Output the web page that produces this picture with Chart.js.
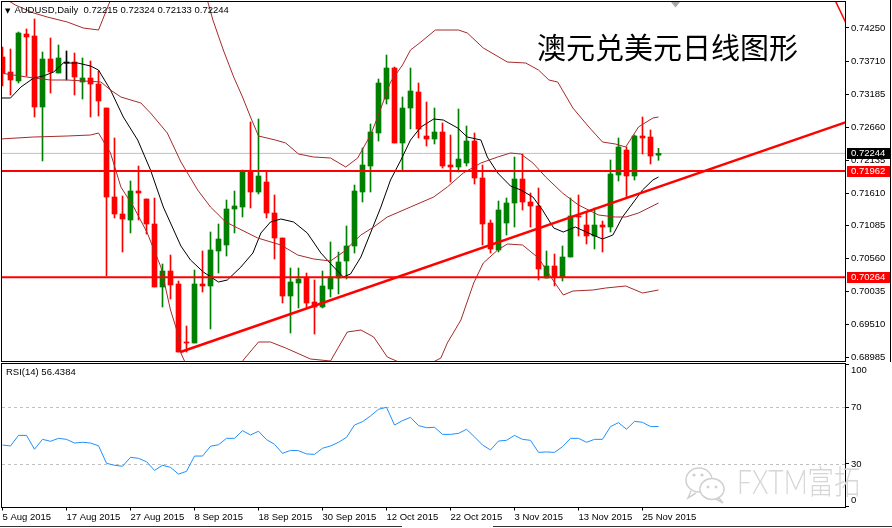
<!DOCTYPE html>
<html>
<head>
<meta charset="utf-8">
<title>AUDUSD Daily</title>
<script src="https://cdn.jsdelivr.net/npm/chart.js@4.4.1/dist/chart.umd.min.js"></script>
<style>
    html, body { margin: 0; padding: 0; background: #fff; }
    #wrap { position: relative; width: 892px; height: 528px; overflow: hidden;
            font-family: 'Liberation Sans', Arial, sans-serif; }
    canvas { position: absolute; left: 0; }
    #priceCanvas { top: 0; }
    #rsiCanvas { top: 363px; }
    .txt { position: absolute; white-space: nowrap; color: #000; }
    #header { left: 5px; top: 4px; font-size: 9.5px; line-height: 11px; }
    #header .arrow { font-family: 'DejaVu Sans', sans-serif; font-size: 7px; margin-right: 4px; }
    #title { left: 537px; top: 32px; font-family: 'Noto Sans CJK SC', sans-serif;
             font-size: 29px; line-height: 29px; }
    #rsiLabel { left: 6px; top: 366px; font-size: 9.5px; line-height: 11px; }
    #watermark { left: 737px; top: 462px; font-family: Lato, 'Noto Sans CJK SC', sans-serif;
                 font-weight: 300; font-size: 33px; line-height: 38px; color: #d6d6d6;
                 transform: scaleX(0.8); transform-origin: left top; }
    #wmIcon { position: absolute; left: 683px; top: 462px; }
    #shiftMark { position: absolute; left: 671px; top: 2px; }
    #edge { position: absolute; left: 890px; top: 0; width: 1px; height: 362px; background: #000; }
    #scroll1 { position: absolute; left: 0; top: 526px; width: 402px; height: 1px; background: #333; }
    #scroll2 { position: absolute; left: 493px; top: 526px; width: 399px; height: 1px; background: #333; }
</style>
</head>
<body>
<div id="wrap">
    <canvas id="priceCanvas" width="892" height="363"></canvas>
    <canvas id="rsiCanvas" width="892" height="165"></canvas>
    <div class="txt" id="header"></div>
    <div class="txt" id="title">澳元兑美元日线图形</div>
    <div class="txt" id="rsiLabel"></div>
    <svg id="wmIcon" width="48" height="44">
        <ellipse cx="16" cy="18" rx="13" ry="12" fill="none" stroke="#d0d0d0" stroke-width="1.5"/>
        <path d="M8 29 L5 36 L13 31" fill="none" stroke="#d0d0d0" stroke-width="1.5"/>
        <ellipse cx="29" cy="27" rx="12" ry="10.5" fill="#fff" stroke="#d0d0d0" stroke-width="1.5"/>
        <path d="M36 36 L40 41 L33 37" fill="none" stroke="#d0d0d0" stroke-width="1.5"/>
        <circle cx="11" cy="13" r="1.6" fill="#d0d0d0"/>
        <circle cx="19" cy="13" r="1.6" fill="#d0d0d0"/>
        <circle cx="25" cy="25" r="1.4" fill="#d0d0d0"/>
        <circle cx="33" cy="25" r="1.4" fill="#d0d0d0"/>
    </svg>
    <div class="txt" id="watermark">FXTM富拓</div>
    <svg id="shiftMark" width="10" height="7"><path d="M0 0 L9 0 L4.5 5.5 Z" fill="#a8a8a8"/></svg>
    <div id="edge"></div>
    <div id="scroll1"></div>
    <div id="scroll2"></div>
</div>
<script>
// ---- Data (5 Aug - 27 Nov 2015) ----
const dateLabels = ['5 Aug 2015', '17 Aug 2015', '27 Aug 2015', '8 Sep 2015', '18 Sep 2015',
    '30 Sep 2015', '12 Oct 2015', '22 Oct 2015', '3 Nov 2015', '13 Nov 2015', '25 Nov 2015'];

const opens = [0.73786, 0.73546, 0.73402, 0.74154, 0.74122, 0.72986, 0.73754, 0.73530, 0.73690, 0.73706,
    0.73386, 0.73450, 0.73354, 0.72970, 0.71546, 0.71274, 0.71178, 0.71642, 0.71514, 0.71114,
    0.70106, 0.70362, 0.70154, 0.69226, 0.69210, 0.70154, 0.70122, 0.70682, 0.70778, 0.71354,
    0.71386, 0.71962, 0.71626, 0.71786, 0.71290, 0.70890, 0.69962, 0.70170, 0.70250, 0.69866,
    0.69786, 0.70074, 0.70250, 0.70522, 0.70762, 0.71626, 0.72042, 0.72570, 0.73114, 0.73610,
    0.72410, 0.72970, 0.73226, 0.72522, 0.72474, 0.72586, 0.72058, 0.72026, 0.72090, 0.72442,
    0.71850, 0.71130, 0.70698, 0.71130, 0.71450, 0.71834, 0.71466, 0.71402, 0.70250, 0.70442,
    0.70266, 0.70586, 0.71242, 0.71098, 0.70922, 0.71098, 0.71066, 0.71898, 0.72298, 0.71882,
    0.72522, 0.72506, 0.72215];
const highs = [0.73946, 0.73914, 0.74186, 0.74234, 0.74394, 0.73866, 0.74090, 0.73978, 0.73882, 0.73850,
    0.73770, 0.73722, 0.73562, 0.72970, 0.72490, 0.71562, 0.71802, 0.72042, 0.71514, 0.71530,
    0.70474, 0.70618, 0.70202, 0.69482, 0.70378, 0.70682, 0.70986, 0.71114, 0.71498, 0.71642,
    0.71978, 0.72746, 0.72794, 0.71962, 0.71578, 0.70890, 0.70410, 0.70410, 0.70330, 0.70218,
    0.70362, 0.70826, 0.70666, 0.71082, 0.71738, 0.72330, 0.72714, 0.73434, 0.73818, 0.73626,
    0.73146, 0.73610, 0.73370, 0.73066, 0.72970, 0.72730, 0.72538, 0.72954, 0.72682, 0.72570,
    0.72058, 0.71178, 0.71482, 0.71530, 0.72186, 0.72234, 0.71610, 0.71690, 0.70682, 0.70634,
    0.70762, 0.71530, 0.71578, 0.71306, 0.71370, 0.71162, 0.72138, 0.72490, 0.72346, 0.72538,
    0.72826, 0.72618, 0.72324];
const lows = [0.73322, 0.73178, 0.73370, 0.73482, 0.72826, 0.72122, 0.73210, 0.73530, 0.73418, 0.73178,
    0.73114, 0.72826, 0.72842, 0.70282, 0.71210, 0.70666, 0.70970, 0.71178, 0.70954, 0.70106,
    0.69786, 0.69914, 0.69066, 0.69066, 0.69210, 0.70026, 0.69434, 0.70330, 0.70602, 0.70970,
    0.71226, 0.71370, 0.71594, 0.71210, 0.70554, 0.69850, 0.69370, 0.69770, 0.69770, 0.69354,
    0.69770, 0.69946, 0.69994, 0.70234, 0.70650, 0.71466, 0.71626, 0.72442, 0.73034, 0.72410,
    0.71962, 0.72634, 0.72490, 0.72362, 0.72394, 0.72010, 0.71786, 0.71946, 0.72042, 0.71754,
    0.70778, 0.70650, 0.70666, 0.70938, 0.71066, 0.71338, 0.71066, 0.70218, 0.70250, 0.70122,
    0.70202, 0.70586, 0.70922, 0.70794, 0.70714, 0.70666, 0.70986, 0.71802, 0.71546, 0.71818,
    0.72234, 0.72074, 0.72133];
const closes = [0.73530, 0.73418, 0.74170, 0.74106, 0.72986, 0.73754, 0.73546, 0.73770, 0.73690, 0.73466,
    0.73450, 0.73354, 0.73082, 0.71546, 0.71274, 0.71194, 0.71642, 0.71610, 0.71114, 0.70106,
    0.70362, 0.70138, 0.69066, 0.69210, 0.70154, 0.70122, 0.70698, 0.70874, 0.71354, 0.71402,
    0.71962, 0.71626, 0.71882, 0.71290, 0.70890, 0.69962, 0.70186, 0.70234, 0.69850, 0.69786,
    0.70122, 0.70266, 0.70506, 0.70762, 0.71642, 0.72058, 0.72586, 0.73370, 0.73610, 0.72410,
    0.72970, 0.73242, 0.72634, 0.72474, 0.72586, 0.72042, 0.72026, 0.72154, 0.72442, 0.71850,
    0.71114, 0.70714, 0.71338, 0.71450, 0.71834, 0.71466, 0.71402, 0.70394, 0.70442, 0.70266,
    0.70586, 0.71242, 0.71226, 0.70922, 0.71098, 0.71066, 0.71914, 0.72346, 0.71882, 0.72522,
    0.72490, 0.72202, 0.72244];

// Bollinger bands and moving average, traced as [bar position, price]
const bandUpper = [[-0.4, 0.74746], [0.6, 0.74698], [1.6, 0.74618], [3.9, 0.74490], [5.6, 0.74426],
    [8.1, 0.74346], [10.1, 0.74250], [12.0, 0.74218], [13.5, 0.74698], [16.0, 0.75178],
    [20.4, 0.75418], [24.1, 0.75018], [25.6, 0.74698], [26.3, 0.74378], [27.6, 0.73898],
    [28.9, 0.73466], [30.0, 0.73146], [31.0, 0.72826], [32.0, 0.72522], [34.1, 0.72458],
    [35.4, 0.72410], [37.0, 0.72234], [38.9, 0.72186], [41.0, 0.72170], [42.9, 0.72026],
    [44.4, 0.72170], [46.0, 0.72538], [46.9, 0.72826], [48.5, 0.73386], [50.0, 0.73658],
    [51.0, 0.73898], [52.3, 0.74026], [54.1, 0.74218], [57.0, 0.74218], [58.1, 0.74170],
    [60.1, 0.73930], [63.1, 0.73706], [65.4, 0.73690], [67.0, 0.73578], [68.3, 0.73418],
    [69.4, 0.73386], [71.3, 0.72970], [73.3, 0.72666], [75.0, 0.72426], [76.6, 0.72394],
    [77.9, 0.72346], [79.5, 0.72666], [81.3, 0.72810], [82.0, 0.72826]];
const bandMiddle = [[-0.3, 0.73530], [3.9, 0.73450], [6.0, 0.73418], [8.1, 0.73418], [12.3, 0.73386],
    [13.5, 0.73258], [14.8, 0.73146], [17.3, 0.73050], [18.5, 0.72890], [20.6, 0.72570],
    [22.3, 0.72106], [24.4, 0.71658], [26.0, 0.71386], [27.9, 0.71146], [29.4, 0.71050],
    [31.9, 0.70890], [34.8, 0.70778], [36.9, 0.70618], [38.9, 0.70554], [41.0, 0.70522],
    [42.6, 0.70666], [44.8, 0.70938], [46.4, 0.71066], [48.1, 0.71226], [51.0, 0.71386],
    [53.9, 0.71546], [55.6, 0.71706], [57.6, 0.71930], [59.8, 0.72090], [61.9, 0.72186],
    [63.5, 0.72250], [64.8, 0.72234], [66.3, 0.72090], [67.9, 0.71866], [70.0, 0.71610],
    [72.0, 0.71418], [74.5, 0.71258], [76.6, 0.71226], [77.9, 0.71226], [79.5, 0.71290],
    [82.0, 0.71450]];
const bandLower = [[-0.3, 0.72474], [3.9, 0.72506], [8.1, 0.72522], [11.0, 0.72538], [12.0, 0.72570],
    [13.5, 0.72250], [14.8, 0.71706], [16.4, 0.71386], [18.1, 0.70970], [19.8, 0.70426],
    [21.0, 0.69738], [21.9, 0.69370], [22.3, 0.69050], [24.1, 0.68538], [26.6, 0.68378],
    [29.1, 0.68618], [30.1, 0.68938], [32.0, 0.69226], [33.5, 0.69226], [35.4, 0.69130],
    [38.5, 0.68954], [41.0, 0.68922], [42.3, 0.69210], [43.1, 0.69386], [44.8, 0.69418],
    [46.4, 0.69306], [48.1, 0.68986], [50.1, 0.68874], [52.9, 0.68842], [54.8, 0.68970],
    [55.6, 0.69210], [57.3, 0.69578], [58.9, 0.70170], [60.1, 0.70490], [61.9, 0.70698],
    [63.1, 0.70794], [65.0, 0.70778], [67.0, 0.70570], [68.8, 0.70218], [70.1, 0.69978],
    [71.3, 0.70042], [73.8, 0.70058], [75.4, 0.70090], [77.9, 0.70122], [80.0, 0.70010],
    [82.0, 0.70058]];
const movingAvg = [[-0.3, 0.73130], [1.0, 0.73130], [2.3, 0.73306], [3.9, 0.73450], [5.1, 0.73482],
    [6.4, 0.73546], [7.6, 0.73690], [9.4, 0.73690], [11.0, 0.73642], [12.0, 0.73578],
    [13.5, 0.73258], [15.1, 0.72826], [16.9, 0.72458], [18.5, 0.71978], [20.1, 0.71386],
    [22.3, 0.70762], [23.5, 0.70538], [25.1, 0.70346], [27.0, 0.70186], [28.1, 0.70218],
    [29.8, 0.70426], [31.3, 0.70650], [32.3, 0.70970], [33.5, 0.71146], [34.8, 0.71194],
    [36.4, 0.71146], [38.1, 0.70970], [39.8, 0.70650], [41.4, 0.70426], [42.6, 0.70266],
    [43.5, 0.70314], [44.8, 0.70586], [46.0, 0.70970], [47.3, 0.71386], [48.5, 0.71818],
    [49.8, 0.72138], [51.0, 0.72458], [52.3, 0.72666], [53.9, 0.72794], [55.1, 0.72778],
    [56.9, 0.72650], [58.1, 0.72506], [59.8, 0.72458], [60.6, 0.72186], [61.9, 0.71930],
    [63.5, 0.71722], [64.8, 0.71658], [66.3, 0.71546], [67.5, 0.71338], [68.9, 0.71050],
    [70.1, 0.70986], [71.6, 0.71066], [73.8, 0.70938], [75.0, 0.70874], [76.3, 0.70938],
    [77.5, 0.71226], [78.8, 0.71450], [80.0, 0.71658], [81.3, 0.71818], [82.0, 0.71866]];

// Chart objects: support / resistance levels and trend lines
const levelPrices = [0.71962, 0.70264];
const lastPrice = 0.72244;
const upTrend = [[22.25, 0.69066], [105.5, 0.72746]];
const downTrend = [[103.0, 0.74982], [105.5, 0.74310]];

const rsiValues = [43.4, 42.7, 50.2, 50.2, 40.4, 47.4, 46.0, 48.1, 47.4, 44.8,
    45.3, 44.8, 42.9, 30.5, 29.1, 28.4, 34.7, 34.0, 31.6, 25.5,
    29.1, 27.6, 22.9, 24.8, 35.6, 35.6, 42.5, 43.6, 48.1, 48.1,
    53.5, 50.5, 53.1, 47.2, 43.9, 37.5, 39.6, 39.4, 37.1, 36.8,
    41.1, 42.7, 45.3, 48.8, 57.5, 59.9, 63.9, 68.6, 70.0, 57.5,
    60.6, 62.9, 57.1, 55.6, 55.9, 50.9, 50.9, 51.6, 54.5, 49.1,
    43.4, 39.9, 46.2, 46.7, 50.2, 47.4, 46.7, 38.2, 38.5, 38.2,
    42.2, 48.1, 48.1, 45.3, 47.4, 47.4, 56.4, 59.2, 54.5, 60.1,
    59.4, 56.4, 56.4384];

const priceTicks = [0.68985, 0.69510, 0.70035, 0.70560, 0.71085, 0.71610, 0.72135,
    0.72660, 0.73185, 0.73710, 0.74250];
const rsiTicks = [0, 30, 70, 100];
const rsiLevels = [30, 70];

// ---- Layout of the MT4 window ----
const X_MIN = -0.0625;
const X_MAX = 105.3125;
const PRICE_MIN = 0.68922;
const PRICE_MAX = 0.74666;
const AXIS_WIDTH = 47;

const colors = {
    up: '#008000',
    down: '#FF0000',
    doji: '#000000',
    band: '#A52A2A',
    ma: '#000000',
    level: '#FF0000',
    lastLine: '#C0C0C0',
    rsi: '#1E90FF'
};
const axisFont = { family: "'Liberation Sans', Arial, sans-serif", size: 9.5 };

function candleColor(i) {
    if (closes[i] > opens[i]) return colors.up;
    if (closes[i] < opens[i]) return colors.down;
    return colors.doji;
}

function toPoints(pairs) {
    return pairs.map(p => ({ x: p[0], y: p[1] }));
}

function lineSet(pairs, color, width, order) {
    return {
        type: 'line',
        data: toPoints(pairs),
        borderColor: color,
        borderWidth: width,
        pointRadius: 0,
        tension: 0,
        clip: 0,
        order: order
    };
}

// Header texts
const last = closes.length - 1;
document.getElementById('header').innerHTML = '<span class="arrow">▼</span>AUDUSD,Daily&nbsp; ' +
    [opens[last], highs[last], lows[last], closes[last]].map(v => v.toFixed(5)).join(' ');
document.getElementById('rsiLabel').textContent = 'RSI(14) ' + rsiValues[last].toFixed(4);

/**
 * Frame and coloured price tags for the price panel
 */
const pricePanelPlugin = {
    id: 'pricePanel',
    afterDraw(chart) {
        const ctx = chart.ctx;
        const area = chart.chartArea;
        const yScale = chart.scales.y;
        ctx.save();
        ctx.strokeStyle = '#000';
        ctx.lineWidth = 1;
        ctx.strokeRect(area.left - 0.5, area.top - 0.5, area.right - area.left + 1, area.bottom - area.top + 1);

        const tags = [
            { value: lastPrice, bg: '#000000' },
            { value: levelPrices[0], bg: '#FF0000' },
            { value: levelPrices[1], bg: '#FF0000' }
        ];
        ctx.font = "9.5px 'Liberation Sans', Arial, sans-serif";
        ctx.textBaseline = 'middle';
        tags.forEach(tag => {
            const y = Math.round(yScale.getPixelForValue(tag.value));
            ctx.fillStyle = tag.bg;
            ctx.fillRect(area.right + 2, y - 5, 43, 11);
            ctx.fillStyle = '#fff';
            ctx.fillText(tag.value.toFixed(5), area.right + 6, y + 0.5);
        });
        ctx.restore();
    }
};

/**
 * Frame, level lines and clamped axis labels for the RSI panel
 */
const rsiPanelPlugin = {
    id: 'rsiPanel',
    beforeDatasetsDraw(chart) {
        const ctx = chart.ctx;
        const area = chart.chartArea;
        const yScale = chart.scales.y;
        ctx.save();
        ctx.strokeStyle = '#C0C0C0';
        ctx.lineWidth = 1;
        ctx.setLineDash([3, 3]);
        rsiLevels.forEach(level => {
            const y = Math.round(yScale.getPixelForValue(level)) + 0.5;
            ctx.beginPath();
            ctx.moveTo(area.left, y);
            ctx.lineTo(area.right, y);
            ctx.stroke();
        });
        ctx.restore();
    },
    afterDraw(chart) {
        const ctx = chart.ctx;
        const area = chart.chartArea;
        const yScale = chart.scales.y;
        ctx.save();
        ctx.strokeStyle = '#000';
        ctx.lineWidth = 1;
        ctx.strokeRect(area.left - 0.5, 0.5, area.right - area.left + 1, Math.round(area.bottom));
        ctx.fillStyle = '#000';
        ctx.font = "9.5px 'Liberation Sans', Arial, sans-serif";
        ctx.textBaseline = 'middle';
        rsiTicks.forEach(v => {
            let y = yScale.getPixelForValue(v);
            y = Math.min(Math.max(y, 7), area.bottom - 6.5);
            ctx.fillText(String(v), area.right + 6, y);
        });
        ctx.restore();
    }
};

// ---- Price panel ----
const idx = opens.map((_, i) => i);

new Chart(document.getElementById('priceCanvas'), {
    type: 'bar',
    data: {
        datasets: [
            {
                label: 'wicks',
                data: idx.map(i => ({ x: i, y: [lows[i], highs[i]] })),
                backgroundColor: c => candleColor(c.dataIndex),
                barThickness: 1,
                grouped: false,
                clip: 0,
                order: 3
            },
            {
                label: 'bodies',
                data: idx.map(i => ({ x: i, y: [opens[i], closes[i]] })),
                backgroundColor: c => candleColor(c.dataIndex),
                barThickness: 5,
                minBarLength: 1,
                grouped: false,
                clip: 0,
                order: 2
            },
            lineSet([[X_MIN, lastPrice], [X_MAX, lastPrice]], colors.lastLine, 1, 4),
            lineSet(bandUpper, colors.band, 1, 1),
            lineSet(bandMiddle, colors.band, 1, 1),
            lineSet(bandLower, colors.band, 1, 1),
            lineSet(movingAvg, colors.ma, 1, 1),
            lineSet([[X_MIN, levelPrices[0]], [X_MAX, levelPrices[0]]], colors.level, 2, 0),
            lineSet([[X_MIN, levelPrices[1]], [X_MAX, levelPrices[1]]], colors.level, 2, 0),
            lineSet(upTrend, colors.level, 2.5, 0),
            lineSet(downTrend, colors.level, 1.5, 0)
        ]
    },
    options: {
        responsive: false,
        animation: false,
        devicePixelRatio: 1,
        layout: { padding: { left: 2, top: 2, right: 0, bottom: 2 } },
        plugins: { legend: { display: false }, tooltip: { enabled: false } },
        scales: {
            x: { type: 'linear', display: false, offset: false, min: X_MIN, max: X_MAX },
            y: {
                type: 'linear',
                position: 'right',
                min: PRICE_MIN,
                max: PRICE_MAX,
                afterBuildTicks: s => { s.ticks = priceTicks.map(v => ({ value: v })); },
                afterFit: s => { s.width = AXIS_WIDTH; s.paddingTop = 0; s.paddingBottom = 0; },
                ticks: {
                    callback: v => v.toFixed(5),
                    color: '#000',
                    font: axisFont,
                    padding: 2,
                    autoSkip: false
                },
                grid: { drawOnChartArea: false, drawTicks: true, tickLength: 4, tickColor: '#000' },
                border: { display: false }
            }
        }
    },
    plugins: [pricePanelPlugin]
});

// ---- RSI panel ----
new Chart(document.getElementById('rsiCanvas'), {
    type: 'line',
    data: {
        datasets: [{
            data: rsiValues.map((v, i) => ({ x: i, y: v })),
            borderColor: colors.rsi,
            borderWidth: 1,
            pointRadius: 0,
            tension: 0,
            clip: 0
        }]
    },
    options: {
        responsive: false,
        animation: false,
        devicePixelRatio: 1,
        layout: { padding: { left: 2, top: 1.8, right: 0, bottom: 0 } },
        plugins: { legend: { display: false }, tooltip: { enabled: false } },
        scales: {
            x: {
                type: 'linear',
                position: 'bottom',
                offset: false,
                min: X_MIN,
                max: X_MAX,
                afterBuildTicks: s => { s.ticks = dateLabels.map((_, k) => ({ value: k * 8 })); },
                afterFit: s => { s.height = 21.5; s.paddingLeft = 0; s.paddingRight = 0; },
                ticks: {
                    callback: (v, i) => dateLabels[i],
                    align: 'start',
                    maxRotation: 0,
                    autoSkip: false,
                    padding: 1,
                    color: '#000',
                    font: axisFont
                },
                grid: { drawOnChartArea: false, drawTicks: true, tickLength: 4, tickColor: '#000' },
                border: { display: false }
            },
            y: {
                type: 'linear',
                position: 'right',
                min: 0,
                max: 100,
                afterBuildTicks: s => { s.ticks = rsiTicks.map(v => ({ value: v })); },
                afterFit: s => { s.width = AXIS_WIDTH; s.paddingTop = 0; s.paddingBottom = 0; },
                ticks: { display: false },
                grid: { drawOnChartArea: false, drawTicks: true, tickLength: 4, tickColor: '#000' },
                border: { display: false }
            }
        }
    },
    plugins: [rsiPanelPlugin]
});
</script>
</body>
</html>
